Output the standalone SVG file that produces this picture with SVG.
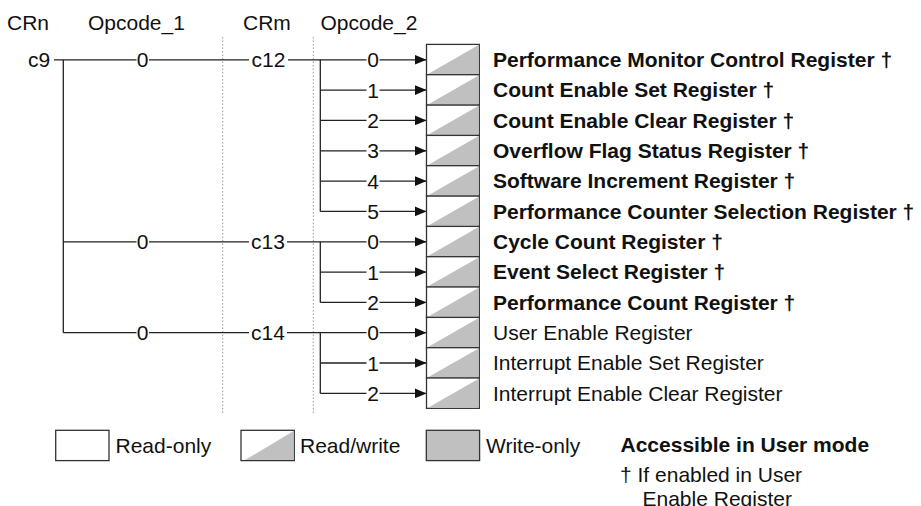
<svg xmlns="http://www.w3.org/2000/svg" width="921" height="506" viewBox="0 0 921 506">
<style>
text{font-family:"Liberation Sans",Arial,sans-serif;font-size:21px;fill:#111}
.b{font-weight:bold}
.m{text-anchor:middle}
.ln{stroke:#222;stroke-width:1.3;fill:none}
.dot{stroke:#999;stroke-width:1;stroke-dasharray:1.5,2;fill:none}
.box{fill:#fff;stroke:#333;stroke-width:1.3}
.tri{fill:#c0c0c0}
.wo{fill:#c0c0c0;stroke:#333;stroke-width:1.3}
</style>
<defs>
<marker id="ah" markerUnits="userSpaceOnUse" markerWidth="12" markerHeight="10" refX="12" refY="5" orient="auto">
<path d="M0,0 L12,5 L0,10 z" fill="#111"/>
</marker>
</defs>
<rect width="921" height="506" fill="#fff"/>
<g id="headers">
<text x="7" y="29.5">CRn</text>
<text x="88" y="29.5">Opcode_1</text>
<text x="243" y="29.5">CRm</text>
<text x="320.5" y="29.5">Opcode_2</text>
</g>
<line class="dot" x1="222.7" y1="37" x2="222.7" y2="415"/>
<line class="dot" x1="313.3" y1="37" x2="313.3" y2="415"/>
<g id="connectors">
<path class="ln" d="M54,59.8 H136.5 M149,59.8 H249 M63.3,59.8 V332.7 M63.3,241.8 H136.5 M149,241.8 H249 M63.3,332.7 H136.5 M149,332.7 H249"/>
<path class="ln" d="M288,59.8 H366.5 M287,241.8 H366.5 M287,332.7 H366.5"/>
<path class="ln" d="M320.3,59.8 V211.4 M320.3,241.8 V302.4 M320.3,332.7 V393.4"/>
<path class="ln" d="M320.3,90.1 H366.5 M320.3,120.4 H366.5 M320.3,150.8 H366.5 M320.3,181.1 H366.5 M320.3,211.4 H366.5 M320.3,272.1 H366.5 M320.3,302.4 H366.5 M320.3,363.0 H366.5 M320.3,393.4 H366.5"/>
<g marker-end="url(#ah)">
<line class="ln" x1="379.5" y1="59.8" x2="426.5" y2="59.8"/>
<line class="ln" x1="379.5" y1="90.1" x2="426.5" y2="90.1"/>
<line class="ln" x1="379.5" y1="120.4" x2="426.5" y2="120.4"/>
<line class="ln" x1="379.5" y1="150.8" x2="426.5" y2="150.8"/>
<line class="ln" x1="379.5" y1="181.1" x2="426.5" y2="181.1"/>
<line class="ln" x1="379.5" y1="211.4" x2="426.5" y2="211.4"/>
<line class="ln" x1="379.5" y1="241.8" x2="426.5" y2="241.8"/>
<line class="ln" x1="379.5" y1="272.1" x2="426.5" y2="272.1"/>
<line class="ln" x1="379.5" y1="302.4" x2="426.5" y2="302.4"/>
<line class="ln" x1="379.5" y1="332.7" x2="426.5" y2="332.7"/>
<line class="ln" x1="379.5" y1="363.0" x2="426.5" y2="363.0"/>
<line class="ln" x1="379.5" y1="393.4" x2="426.5" y2="393.4"/>
</g>
<g class="m">
<text x="142.7" y="67.3">0</text>
<text x="142.7" y="249.3">0</text>
<text x="142.7" y="340.2">0</text>
<text x="373" y="67.3">0</text>
<text x="373" y="97.6">1</text>
<text x="373" y="127.9">2</text>
<text x="373" y="158.3">3</text>
<text x="373" y="188.6">4</text>
<text x="373" y="218.9">5</text>
<text x="373" y="249.3">0</text>
<text x="373" y="279.6">1</text>
<text x="373" y="309.9">2</text>
<text x="373" y="340.2">0</text>
<text x="373" y="370.5">1</text>
<text x="373" y="400.9">2</text>
</g>
</g>
<g id="crn-c9"><text x="28" y="67.3">c9</text></g>
<g id="crm-c12"><text class="m" x="268.5" y="67.3">c12</text></g>
<g id="crm-c13"><text class="m" x="268" y="249.3">c13</text></g>
<g id="crm-c14"><text class="m" x="268" y="340.2">c14</text></g>
<g id="registers">
<g id="r0"><rect class="box" x="426.5" y="44.4" width="52.8" height="30.33"/><path class="tri" d="M428,74 L478.6,45.1 V74 z"/><text class="b" x="493" y="67">Performance Monitor Control Register †</text></g>
<g id="r1"><rect class="box" x="426.5" y="74.7" width="52.8" height="30.33"/><path class="tri" d="M428,104.4 L478.6,75.4 V104.4 z"/><text class="b" x="493" y="97.3">Count Enable Set Register †</text></g>
<g id="r2"><rect class="box" x="426.5" y="105.1" width="52.8" height="30.33"/><path class="tri" d="M428,134.7 L478.6,105.8 V134.7 z"/><text class="b" x="493" y="127.6">Count Enable Clear Register †</text></g>
<g id="r3"><rect class="box" x="426.5" y="135.4" width="52.8" height="30.33"/><path class="tri" d="M428,165 L478.6,136.1 V165 z"/><text class="b" x="493" y="158">Overflow Flag Status Register †</text></g>
<g id="r4"><rect class="box" x="426.5" y="165.7" width="52.8" height="30.33"/><path class="tri" d="M428,195.4 L478.6,166.4 V195.4 z"/><text class="b" x="493" y="188.3">Software Increment Register †</text></g>
<g id="r5"><rect class="box" x="426.5" y="196.1" width="52.8" height="30.33"/><path class="tri" d="M428,225.7 L478.6,196.8 V225.7 z"/><text class="b" x="493" y="218.6">Performance Counter Selection Register †</text></g>
<g id="r6"><rect class="box" x="426.5" y="226.4" width="52.8" height="30.33"/><path class="tri" d="M428,256 L478.6,227.1 V256 z"/><text class="b" x="493" y="249">Cycle Count Register †</text></g>
<g id="r7"><rect class="box" x="426.5" y="256.7" width="52.8" height="30.33"/><path class="tri" d="M428,286.3 L478.6,257.4 V286.3 z"/><text class="b" x="493" y="279.3">Event Select Register †</text></g>
<g id="r8"><rect class="box" x="426.5" y="287.0" width="52.8" height="30.33"/><path class="tri" d="M428,316.7 L478.6,287.7 V316.7 z"/><text class="b" x="493" y="309.6">Performance Count Register †</text></g>
<g id="r9"><rect class="box" x="426.5" y="317.4" width="52.8" height="30.33"/><path class="tri" d="M428,347 L478.6,318.1 V347 z"/><text x="493" y="339.9">User Enable Register</text></g>
<g id="r10"><rect class="box" x="426.5" y="347.7" width="52.8" height="30.33"/><path class="tri" d="M428,377.3 L478.6,348.4 V377.3 z"/><text x="493" y="370.2">Interrupt Enable Set Register</text></g>
<g id="r11"><rect class="box" x="426.5" y="378.0" width="52.8" height="30.33"/><path class="tri" d="M428,407.7 L478.6,378.7 V407.7 z"/><text x="493" y="400.6">Interrupt Enable Clear Register</text></g>
</g>
<g id="legend">
<g id="leg-ro"><rect class="box" x="55.7" y="430.3" width="53.3" height="30.3"/><text x="115.5" y="453">Read-only</text></g>
<g id="leg-rw"><rect class="box" x="241" y="430.3" width="53.3" height="30.3"/><path class="tri" d="M245,460 L293.6,431 V460 z"/><text x="300" y="453">Read/write</text></g>
<g id="leg-wo"><rect class="wo" x="426.3" y="430.3" width="53.3" height="30.3"/><text x="486" y="453">Write-only</text></g>
<g id="leg-user"><text class="b" x="620.5" y="451.5">Accessible in User mode</text>
<text x="620" y="482">† If enabled in User</text>
<text x="642.5" y="505.5">Enable Register</text></g>
</g>
</svg>
